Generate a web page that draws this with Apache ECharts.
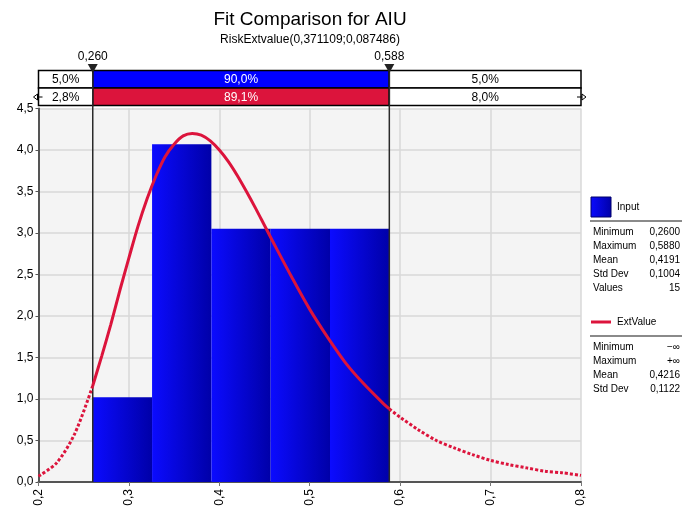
<!DOCTYPE html>
<html>
<head>
<meta charset="utf-8">
<script src="https://cdn.jsdelivr.net/npm/echarts@6/dist/echarts.min.js"></script>
<style>
  html, body { margin: 0; padding: 0; background: #ffffff; }
  #chart { width: 682px; height: 510px; }
</style>
</head>
<body>
<div id="chart"></div>
<script>
// Histogram of the input sample (density scale)
const binEdges   = [0.26, 0.3256, 0.3912, 0.4568, 0.5224, 0.588];
const binDensity = [1.02, 4.07, 3.05, 3.05, 3.05];

// Fitted ExtValue density curve
const fitX = [0.20, 0.22, 0.24, 0.26, 0.27, 0.28, 0.29, 0.30, 0.31, 0.32, 0.33, 0.34, 0.35, 0.36, 0.37, 0.38,
              0.39, 0.40, 0.41, 0.42, 0.43, 0.44, 0.45, 0.46, 0.48, 0.50, 0.52, 0.54, 0.56, 0.58, 0.588,
              0.60, 0.62, 0.64, 0.66, 0.68, 0.70, 0.72, 0.74, 0.76, 0.78, 0.80];
const fitY = [0.07, 0.23, 0.58, 1.16, 1.52, 1.90, 2.31, 2.70, 3.08, 3.41, 3.69, 3.92, 4.07, 4.17, 4.20, 4.18,
              4.11, 4.00, 3.86, 3.69, 3.50, 3.30, 3.09, 2.88, 2.47, 2.08, 1.74, 1.43, 1.18, 0.96, 0.88,
              0.78, 0.63, 0.50, 0.41, 0.33, 0.26, 0.21, 0.17, 0.13, 0.11, 0.08];

// Delimiters and probability bands
const markerValues = [0.26, 0.588];
const markerLabels = ['0,260', '0,588'];
const bandEdges    = [0.2, 0.26, 0.588, 0.8];
const inputBand    = ['5,0%', '90,0%', '5,0%'];
const fitBand      = ['2,8%', '89,1%', '8,0%'];

// Axis ranges
const xMin = 0.2, xMax = 0.8, xStep = 0.1;
const yMin = 0,   yMax = 4.5, yStep = 0.5;

// Statistics panel
const inputStats = [['Minimum', '0,2600'], ['Maximum', '0,5880'], ['Mean', '0,4191'], ['Std Dev', '0,1004'], ['Values', '15']];
const fitStats   = [['Minimum', '\u2212\u221e'], ['Maximum', '+\u221e'], ['Mean', '0,4216'], ['Std Dev', '0,1122']];

const FONT = '"Liberation Sans", Arial, sans-serif';
const RED  = '#dc143c';
const comma1 = v => v.toFixed(1).replace('.', ',');

const chart = echarts.init(document.getElementById('chart'), null, { renderer: 'canvas' });

const barFill = new echarts.graphic.LinearGradient(0, 0, 1, 0, [
  { offset: 0, color: '#0b0bff' },
  { offset: 1, color: '#0000a8' }
]);

const pts = fitX.map((x, i) => [x, fitY[i]]);
const leftTail  = pts.filter(p => p[0] <= markerValues[0]);
const middle    = pts.filter(p => p[0] >= markerValues[0] && p[0] <= markerValues[1]);
const rightTail = pts.filter(p => p[0] >= markerValues[1]);

const bandRows = [
  { labels: inputBand, fills: ['#ffffff', '#0000ff', '#ffffff'], y0: 70.5, y1: 88 },
  { labels: fitBand,   fills: ['#ffffff', RED,       '#ffffff'], y0: 88,   y1: 105.5 }
];
const bandData = [];
bandRows.forEach((row, r) => {
  for (let i = 0; i < 3; i++) bandData.push([bandEdges[i], bandEdges[i + 1], r, i]);
});

// Statistics panel graphics
const panel = [];
panel.push({ type: 'rect', shape: { x: 591, y: 197, width: 20, height: 20 },
  style: { fill: barFill, stroke: '#00006a', lineWidth: 1 } });
panel.push({ type: 'text', style: { text: 'Input', x: 617, y: 207, verticalAlign: 'middle', font: '10px ' + FONT, fill: '#000' } });
panel.push({ type: 'line', shape: { x1: 590, y1: 221, x2: 682, y2: 221 }, style: { stroke: '#8a8a8a', lineWidth: 2 } });
inputStats.forEach((s, i) => {
  const y = 232 + i * 14;
  panel.push({ type: 'text', style: { text: s[0], x: 593, y, verticalAlign: 'middle', font: '10px ' + FONT, fill: '#000' } });
  panel.push({ type: 'text', style: { text: s[1], x: 680, y, align: 'right', verticalAlign: 'middle', font: '10px ' + FONT, fill: '#000' } });
});
panel.push({ type: 'line', shape: { x1: 591, y1: 322, x2: 611, y2: 322 }, style: { stroke: RED, lineWidth: 3 } });
panel.push({ type: 'text', style: { text: 'ExtValue', x: 617, y: 322, verticalAlign: 'middle', font: '10px ' + FONT, fill: '#000' } });
panel.push({ type: 'line', shape: { x1: 590, y1: 336, x2: 682, y2: 336 }, style: { stroke: '#8a8a8a', lineWidth: 2 } });
fitStats.forEach((s, i) => {
  const y = 347 + i * 14;
  panel.push({ type: 'text', style: { text: s[0], x: 593, y, verticalAlign: 'middle', font: '10px ' + FONT, fill: '#000' } });
  panel.push({ type: 'text', style: { text: s[1], x: 680, y, align: 'right', verticalAlign: 'middle', font: '10px ' + FONT, fill: '#000' } });
});

const option = {
  backgroundColor: '#ffffff',
  animation: false,
  textStyle: { fontFamily: FONT },
  grid: { left: 38.5, right: 101, top: 108.5, bottom: 28, show: true, backgroundColor: '#f4f4f4', borderWidth: 0 },
  xAxis: {
    type: 'value', min: xMin, max: xMax, interval: xStep,
    axisLine: { show: true, onZero: false, lineStyle: { color: '#555', width: 2 } },
    axisTick: { show: true, length: 4, lineStyle: { color: '#777' } },
    axisLabel: { rotate: 90, margin: 7, fontSize: 12, color: '#000', formatter: v => comma1(v) },
    splitLine: { show: true, lineStyle: { color: '#d8d8d8', width: 1.5 } }
  },
  yAxis: {
    type: 'value', min: yMin, max: yMax, interval: yStep,
    axisLine: { show: true, lineStyle: { color: '#555', width: 2 } },
    axisTick: { show: true, length: 3, lineStyle: { color: '#555' } },
    axisLabel: { margin: 5, fontSize: 12, color: '#000', formatter: v => comma1(v) },
    splitLine: { show: true, lineStyle: { color: '#d8d8d8', width: 1.5 } }
  },
  series: [
    {
      // histogram bars
      type: 'custom', z: 2,
      data: binDensity.map((h, i) => [binEdges[i], binEdges[i + 1], h]),
      encode: { x: [0, 1], y: 2 },
      renderItem(params, api) {
        const p0 = api.coord([api.value(0), api.value(2)]);
        const p1 = api.coord([api.value(1), 0]);
        return { type: 'rect', shape: { x: p0[0], y: p0[1], width: p1[0] - p0[0], height: p1[1] - p0[1] },
          style: { fill: barFill } };
      }
    },
    {
      // probability bands above the plot
      type: 'custom', z: 1, clip: false,
      data: bandData,
      encode: { x: [0, 1] },
      renderItem(params, api) {
        const row = bandRows[api.value(2)];
        const seg = api.value(3);
        const a = api.coord([api.value(0), 0])[0];
        const b = api.coord([api.value(1), 0])[0];
        return { type: 'group', children: [
          { type: 'rect', shape: { x: a, y: row.y0, width: b - a, height: row.y1 - row.y0 },
            style: { fill: row.fills[seg], stroke: '#000', lineWidth: 1.5 } },
          { type: 'text', style: { text: row.labels[seg], x: (a + b) / 2, y: (row.y0 + row.y1) / 2 + 0.5,
            align: 'center', verticalAlign: 'middle', font: '12px ' + FONT, fill: seg === 1 ? '#fff' : '#000' } }
        ] };
      }
    },
    {
      // delimiter lines with their value labels
      type: 'custom', z: 3, clip: false,
      data: markerValues.map(v => [v]),
      encode: { x: 0 },
      renderItem(params, api) {
        const p = api.coord([api.value(0), 0]);
        return { type: 'group', children: [
          { type: 'line', shape: { x1: p[0], y1: p[1], x2: p[0], y2: 66 }, style: { stroke: '#2a2a2a', lineWidth: 1.5 } },
          { type: 'polygon', shape: { points: [[p[0] - 5, 64], [p[0] + 5, 64], [p[0], 73]] }, style: { fill: '#222' } },
          { type: 'text', style: { text: markerLabels[params.dataIndex], x: p[0], y: 57, align: 'center',
            verticalAlign: 'middle', font: '12px ' + FONT, fill: '#000' } }
        ] };
      }
    },
    {
      // band end arrows of the fit row
      type: 'custom', z: 3, clip: false,
      data: [[bandEdges[0], -1], [bandEdges[3], 1]],
      encode: { x: 0 },
      renderItem(params, api) {
        const x = api.coord([api.value(0), 0])[0];
        const d = api.value(1);
        const y = 97;
        return { type: 'group', children: [
          { type: 'line', shape: { x1: x - d * 4, y1: y, x2: x + d * 1, y2: y }, style: { stroke: '#000', lineWidth: 1 } },
          { type: 'polygon', shape: { points: [[x + d * 5, y], [x + d * 1, y - 3], [x + d * 1, y + 3]] },
            style: { fill: '#fff', stroke: '#000', lineWidth: 1 } }
        ] };
      }
    },
    {
      type: 'line', z: 4, data: leftTail, smooth: 0.3, symbol: 'none',
      lineStyle: { color: RED, width: 3, type: [3, 2] }
    },
    {
      type: 'line', z: 4, data: middle, smooth: 0.3, symbol: 'none',
      lineStyle: { color: RED, width: 3 }
    },
    {
      type: 'line', z: 4, data: rightTail, smooth: 0.3, symbol: 'none',
      lineStyle: { color: RED, width: 3, type: [3, 2] }
    }
  ],
  graphic: [
    { type: 'text', z: 10, style: { text: 'Fit Comparison for AIU', x: 310, y: 20, align: 'center', verticalAlign: 'middle',
      font: '19px ' + FONT, fill: '#000' } },
    { type: 'text', z: 10, style: { text: 'RiskExtvalue(0,371109;0,087486)', x: 310, y: 40, align: 'center', verticalAlign: 'middle',
      font: '12px ' + FONT, fill: '#000' } }
  ].concat(panel)
};

chart.setOption(option);
</script>
</body>
</html>
